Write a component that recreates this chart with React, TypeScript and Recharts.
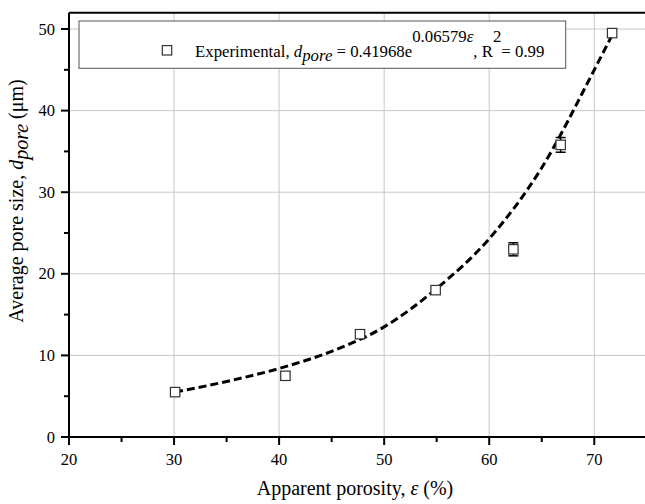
import React from "react";
import {
  ComposedChart,
  ErrorBar,
  Line,
  ReferenceLine,
  Scatter,
  XAxis,
  YAxis,
} from "recharts";

// measured porosity (%) vs average pore size (um)
const porosity = [30.1, 40.6, 47.7, 54.9, 62.3, 66.8, 71.7];
const poreSize = [5.5, 7.5, 12.6, 18.0, 23.0, 35.8, 49.5];
const poreErr = [0.3, 0.5, 0.2, 0.3, 0.8, 0.9, 0.3];

// dashed fit curve
const fitX = [30.1, 35, 40, 45, 50, 55, 60, 65, 70, 71.6];
const fitY = [5.5, 6.8, 8.4, 10.5, 13.5, 18.2, 24.3, 33.0, 45.0, 49.0];

const xMajor = [20, 30, 40, 50, 60, 70];
const xMinor = [25, 35, 45, 55, 65, 75];
const yMajor = [0, 10, 20, 30, 40, 50];
const yMinor = [5, 15, 25, 35, 45];

const points = porosity.map((x, i) => ({ x, y: poreSize[i], err: poreErr[i] }));
const fit = fitX.map((x, i) => ({ x, y: fitY[i] }));

const FONT = "'Liberation Serif', 'Times New Roman', Tinos, 'DejaVu Serif', serif";
const txt = { fontFamily: FONT };

const XTick = (props: any) => {
  const { x, y, payload } = props;
  const major = xMajor.includes(payload.value);
  return (
    <g>
      <line x1={x} x2={x} y1={y} y2={y + (major ? 8 : 5)} stroke="#000" strokeWidth={2} />
      {major && (
        <text x={x} y={y + 28} textAnchor="middle" fontSize={16.5} style={txt} fill="#000">
          {payload.value}
        </text>
      )}
    </g>
  );
};

const YTick = (props: any) => {
  const { x, y, payload } = props;
  const major = yMajor.includes(payload.value);
  return (
    <g>
      <line x1={x} x2={x - (major ? 8 : 5)} y1={y} y2={y} stroke="#000" strokeWidth={2} />
      {major && (
        <text x={x - 14} y={y + 5.5} textAnchor="end" fontSize={16.5} style={txt} fill="#000">
          {payload.value}
        </text>
      )}
    </g>
  );
};

const SquareDot = (props: any) => {
  const { cx, cy } = props;
  return <rect x={cx - 4.7} y={cy - 4.7} width={9.4} height={9.4} fill="#fff" stroke="#333" strokeWidth={1.2} />;
};

export default function App() {
  const xTicks = [...xMajor, ...xMinor].sort((a, b) => a - b);
  const yTicks = [...yMajor, ...yMinor].sort((a, b) => a - b);
  return (
    <div style={{ position: "absolute", left: 0, top: 0, width: 645, height: 504, overflow: "hidden", background: "#fff", fontFamily: FONT }}>
      <ComposedChart
        width={660}
        height={504}
        margin={{ top: 12.7, right: 13.2, left: 0, bottom: 0 }}
      >
        <XAxis
          type="number"
          dataKey="x"
          domain={[20, 75]}
          ticks={xTicks}
          interval={0}
          height={67}
          tickSize={0}
          tickMargin={0}
          tickLine={false}
          tick={<XTick />}
          axisLine={{ stroke: "#000", strokeWidth: 2 }}
          allowDataOverflow
        />
        <YAxis
          type="number"
          dataKey="y"
          domain={[0, 52]}
          ticks={yTicks}
          interval={0}
          width={69}
          tickSize={0}
          tickMargin={0}
          tickLine={false}
          tick={<YTick />}
          axisLine={{ stroke: "#000", strokeWidth: 2 }}
          allowDataOverflow
        />
        {xMajor.slice(1).map((v) => (
          <ReferenceLine key={"gx" + v} x={v} stroke="#c8c8c8" strokeWidth={1} />
        ))}
        {yMajor.slice(1).map((v) => (
          <ReferenceLine key={"gy" + v} y={v} stroke="#c8c8c8" strokeWidth={1} />
        ))}
        <ReferenceLine y={52} stroke="#000" strokeWidth={2} />
        <ReferenceLine x={75} stroke="#000" strokeWidth={2} />
        <Line
          data={fit}
          dataKey="y"
          type="monotone"
          stroke="#000"
          strokeWidth={3}
          strokeDasharray="8 4"
          dot={false}
          activeDot={false}
          isAnimationActive={false}
        />
        <Scatter data={points} dataKey="y" shape={<SquareDot />} isAnimationActive={false}>
          <ErrorBar dataKey="err" direction="y" width={5} stroke="#000" strokeWidth={1.5} />
        </Scatter>
      </ComposedChart>
      <svg
        width={645}
        height={504}
        style={{ position: "absolute", left: 0, top: 0, pointerEvents: "none", fontFamily: FONT }}
      >
        <rect x={79} y={21} width={486.7} height={47.3} fill="#fff" stroke="#555" strokeWidth={1} />
        <rect x={162.3} y={45.6} width={9.4} height={9.4} fill="#fff" stroke="#333" strokeWidth={1.2} />
        <text x={195} y={56.7} fontSize={16.8} fill="#000" style={txt}>
          Experimental,{" "}
          <tspan fontStyle="italic">d</tspan>
          <tspan fontStyle="italic" dy={4}>pore</tspan>
          <tspan dy={-4}> = 0.41968e</tspan>
          <tspan dy={-15}>0.06579</tspan>
          <tspan fontStyle="italic">ε</tspan>
          <tspan dy={15}>, R</tspan>
          <tspan dy={-15}>2</tspan>
          <tspan dy={15}>= 0.99</tspan>
        </text>
        <text x={355} y={495} fontSize={20} textAnchor="middle" fill="#000" style={txt}>
          Apparent porosity, <tspan fontStyle="italic">ε</tspan> (%)
        </text>
        <text transform="translate(23,201) rotate(-90)" fontSize={20} textAnchor="middle" fill="#000" style={txt}>
          Average pore size, <tspan fontStyle="italic">d</tspan>
          <tspan fontStyle="italic" dy={5}>pore</tspan>
          <tspan dy={-5}> (μm)</tspan>
        </text>
      </svg>
    </div>
  );
}
